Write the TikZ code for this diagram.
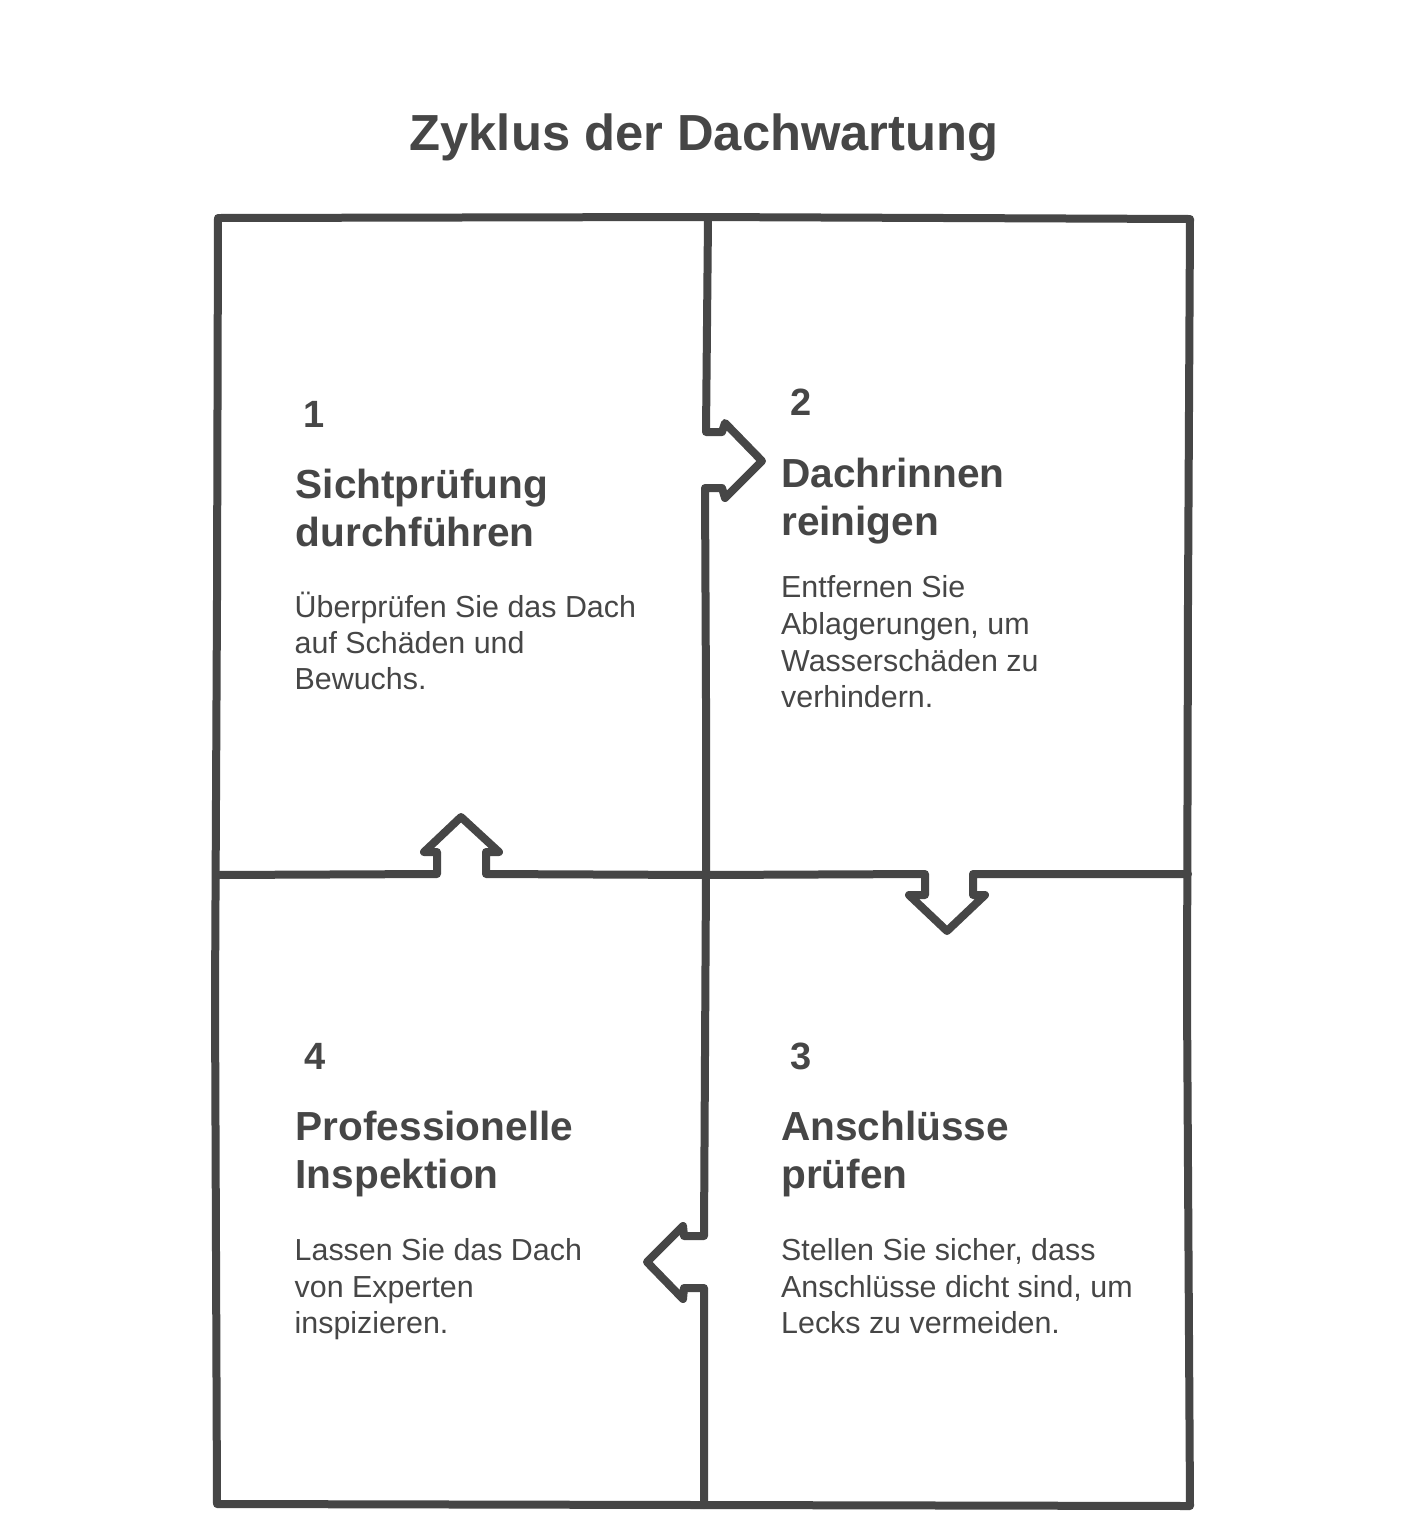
\documentclass[tikz,border=0pt]{standalone}
\usepackage{fontspec}
\setmainfont{Liberation Sans}
\definecolor{ink}{HTML}{464646}
\begin{document}
\begin{tikzpicture}[x=1pt,y=-1pt,
  frame/.style={draw=ink,line width=8pt,line join=round,line cap=round},
  txt/.style={anchor=base west,inner sep=0pt,text=ink},
  titlefont/.style={font=\fontsize{50.7}{60}\selectfont\bfseries},
  numfont/.style={txt,font=\fontsize{38}{45}\selectfont\bfseries},
  headfont/.style={txt,font=\fontsize{40.6}{48}\selectfont\bfseries},
  bodyfont/.style={txt,font=\fontsize{30.4}{36}\selectfont}]
\useasboundingbox[fill=white] (0,0) rectangle (1416,1532);
% outer frame
\draw[frame] (218,218) -- (700,217) -- (1190,219) -- (1188,600) -- (1187,1000)
  -- (1190,1506) -- (700,1505) -- (217,1504) -- (215,1000) -- (217,600) -- cycle;
% upper vertical divider with arrow 1 -> 2
\draw[frame] (708,219) -- (706,432) -- (722,432) -- (725,423) -- (762,461)
  -- (725,498) -- (722,488) -- (705,488) -- (706,700) -- (706,874);
% lower vertical divider with arrow 3 -> 4
\draw[frame] (706,874) -- (704,1236) -- (684,1236) -- (683,1226) -- (647,1262)
  -- (683,1299) -- (684,1288) -- (704,1288) -- (704,1505);
% horizontal divider with arrows 4 -> 1 and 2 -> 3
\draw[frame] (217,875) -- (437,874) -- (437,852) -- (424,852) -- (461,817)
  -- (499,852) -- (486,852) -- (486,874) -- (706,875) -- (925,874) -- (925,895)
  -- (909,895) -- (947,931) -- (985,895) -- (973,895) -- (973,874) -- (1188,874);
% title
\node[titlefont,anchor=base,inner sep=0pt,text=ink] (title) at (704,150) {Zyklus der Dachwartung};
% cell 1
\node[numfont] (n1) at (303,427) {1};
\node[headfont] (h1a) at (295.5,498) {Sichtprüfung};
\node[headfont] (h1b) at (295.5,546) {durchführen};
\node[bodyfont] (b1a) at (294.5,617) {Überprüfen Sie das Dach};
\node[bodyfont] (b1b) at (294.5,653) {auf Schäden und};
\node[bodyfont] (b1c) at (294.5,689) {Bewuchs.};
% cell 2
\node[numfont] (n2) at (790,415) {2};
\node[headfont] (h2a) at (781,487) {Dachrinnen};
\node[headfont] (h2b) at (781,535) {reinigen};
\node[bodyfont] (b2a) at (781,597) {Entfernen Sie};
\node[bodyfont] (b2b) at (781,634) {Ablagerungen, um};
\node[bodyfont] (b2c) at (781,671) {Wasserschäden zu};
\node[bodyfont] (b2d) at (781,707) {verhindern.};
% cell 3
\node[numfont] (n3) at (790,1069) {3};
\node[headfont] (h3a) at (781,1140) {Anschlüsse};
\node[headfont] (h3b) at (781,1188) {prüfen};
\node[bodyfont] (b3a) at (781,1260) {Stellen Sie sicher, dass};
\node[bodyfont] (b3b) at (781,1297) {Anschlüsse dicht sind, um};
\node[bodyfont] (b3c) at (781,1333) {Lecks zu vermeiden.};
% cell 4
\node[numfont] (n4) at (304,1069) {4};
\node[headfont] (h4a) at (295.5,1140) {Professionelle};
\node[headfont] (h4b) at (295.5,1188) {Inspektion};
\node[bodyfont] (b4a) at (294.5,1260) {Lassen Sie das Dach};
\node[bodyfont] (b4b) at (294.5,1297) {von Experten};
\node[bodyfont] (b4c) at (294.5,1333) {inspizieren.};
\end{tikzpicture}
\end{document}
